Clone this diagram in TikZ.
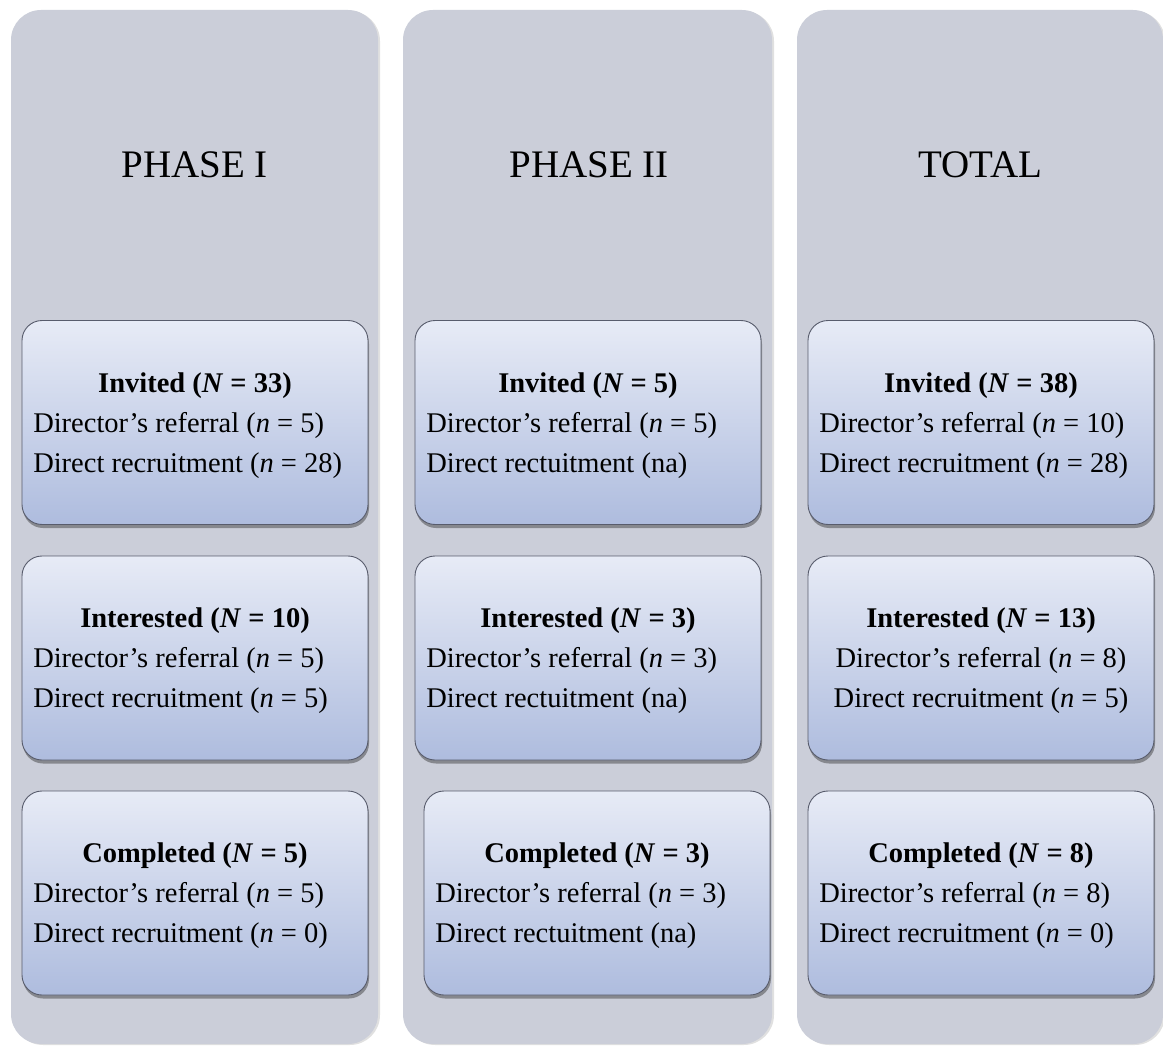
\documentclass[tikz,border=0pt]{standalone}
\usepackage{fontspec}
\setmainfont{Liberation Serif}
\usetikzlibrary{shadows,calc}
\definecolor{colfill}{RGB}{203,206,217}
\definecolor{boxtop}{RGB}{231,235,246}
\definecolor{boxbot}{RGB}{174,188,222}
\definecolor{boxline}{RGB}{88,92,108}
\tikzset{
  column/.style={rounded corners=30pt, fill=colfill, draw=none, inner sep=0pt,
    drop shadow={shadow xshift=2pt, shadow yshift=-1pt, opacity=0.12, fill=black}},
  stagebox/.style={rounded corners=20pt, draw=boxline, line width=0.9pt, inner sep=0pt,
    top color=boxtop, bottom color=boxbot, minimum width=346pt, minimum height=204pt,
    drop shadow={shadow xshift=1pt, shadow yshift=-3.5pt, opacity=0.45, fill=black!80}},
  heading/.style={font=\fontsize{39}{44}\selectfont, inner sep=0pt, anchor=base},
  titleline/.style={font=\fontsize{28.5}{33}\selectfont\bfseries, inner sep=0pt, anchor=base},
  bodyline/.style={font=\fontsize{28.5}{33}\selectfont, inner sep=0pt, anchor=base west},
  bodymid/.style={font=\fontsize{28.5}{33}\selectfont, inner sep=0pt, anchor=base},
}
\newcommand{\stagetext}[5]{% box name, title, line 1, line 2, style of body lines
  \node[titleline] (#1-t) at ($(#1.north)+(0,72)$) {#2};
  \ifx#5c
    \node[bodymid] (#1-a) at ($(#1.north)+(0,112)$) {#3};
    \node[bodymid] (#1-b) at ($(#1.north)+(0,152)$) {#4};
  \else
    \node[bodyline] (#1-a) at ($(#1.north west)+(11.5,112)$) {#3};
    \node[bodyline] (#1-b) at ($(#1.north west)+(11.5,152)$) {#4};
  \fi
}
\begin{document}
\begin{tikzpicture}[x=1pt, y=-1pt]
\useasboundingbox (0,0) rectangle (1163,1046);

% the three columns
\node[column, minimum width=367pt, minimum height=1034pt] (c1) at (194.5,527) {};
\node[column, minimum width=369pt, minimum height=1034pt] (c2) at (587.5,527) {};
\node[column, minimum width=366pt, minimum height=1034pt] (c3) at (980,527) {};

\node[heading] (h1) at (194.5,178) {PHASE I};
\node[heading] (h2) at (589,178) {PHASE II};
\node[heading] (h3) at (980,178) {TOTAL};

% stage boxes
\node[stagebox] (b11) at (195,422.5) {};
\node[stagebox] (b12) at (195,658) {};
\node[stagebox] (b13) at (195,893) {};
\node[stagebox] (b21) at (588,422.5) {};
\node[stagebox] (b22) at (588,658) {};
\node[stagebox] (b23) at (597,893) {};
\node[stagebox] (b31) at (981,422.5) {};
\node[stagebox] (b32) at (981,658) {};
\node[stagebox] (b33) at (981,893) {};

\stagetext{b11}{Invited (\textit{N} = 33)}{Director’s referral (\textit{n} = 5)}{Direct recruitment (\textit{n} = 28)}{l}
\stagetext{b12}{Interested (\textit{N} = 10)}{Director’s referral (\textit{n} = 5)}{Direct recruitment (\textit{n} = 5)}{l}
\stagetext{b13}{Completed (\textit{N} = 5)}{Director’s referral (\textit{n} = 5)}{Direct recruitment (\textit{n} = 0)}{l}
\stagetext{b21}{Invited (\textit{N} = 5)}{Director’s referral (\textit{n} = 5)}{Direct rectuitment (na)}{l}
\stagetext{b22}{Interested (\textit{N} = 3)}{Director's referral (\textit{n} = 3)}{Direct rectuitment (na)}{l}
\stagetext{b23}{Completed (\textit{N} = 3)}{Director’s referral (\textit{n} = 3)}{Direct rectuitment (na)}{l}
\stagetext{b31}{Invited (\textit{N} = 38)}{Director’s referral (\textit{n} = 10)}{Direct recruitment (\textit{n} = 28)}{l}
\stagetext{b32}{Interested (\textit{N} = 13)}{Director’s referral (\textit{n} = 8)}{Direct recruitment (\textit{n} = 5)}{c}
\stagetext{b33}{Completed (\textit{N} = 8)}{Director’s referral (\textit{n} = 8)}{Direct recruitment (\textit{n} = 0)}{l}
\end{tikzpicture}
\end{document}
